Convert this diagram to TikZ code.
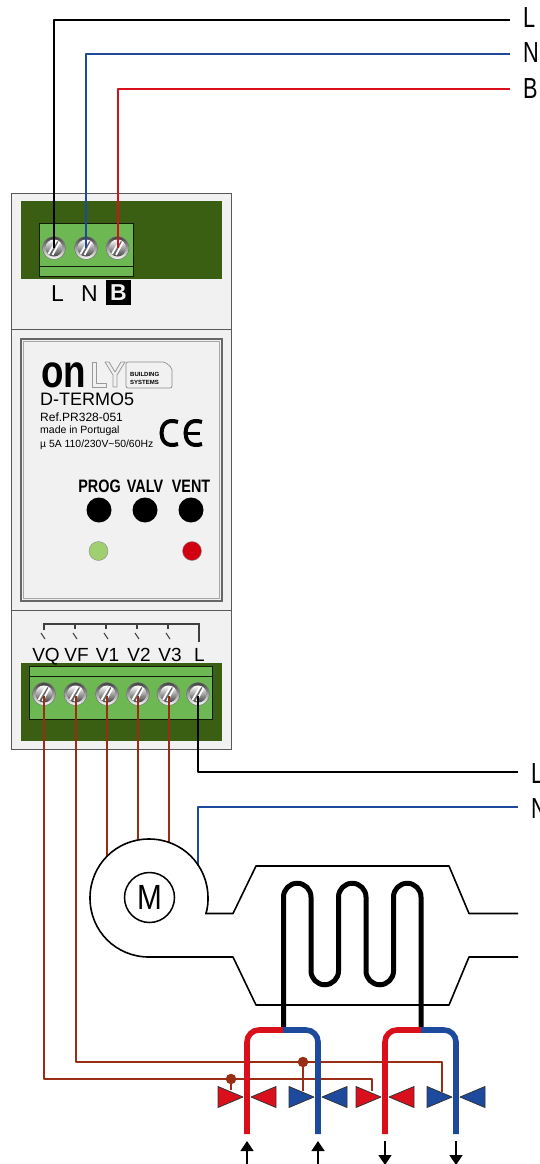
\documentclass[tikz,border=0pt]{standalone}
\usepackage{fontspec}
\setmainfont{Liberation Sans}
\usetikzlibrary{arrows.meta,calc}
\definecolor{dkgreen}{HTML}{3B5F12}
\definecolor{ltgreen}{HTML}{6DB853}
\definecolor{bodyg}{HTML}{F1F1F1}
\definecolor{wred}{HTML}{D9101C}
\definecolor{wblue}{HTML}{1E4A9E}
\definecolor{wbrown}{HTML}{9A2E14}
\tikzset{
 x=1pt,y=-1pt,
 wire/.style={line width=2pt,line join=round},
 lab/.style={font=\fontsize{23}{23}\selectfont,inner sep=0pt,anchor=base},
 endlab/.style={font=\fontsize{29}{29}\selectfont,inner sep=0pt,anchor=base west,xscale=.75},
 tlab/.style={font=\fontsize{19}{19}\selectfont,inner sep=0pt,anchor=base},
 bw/.style={wire,color=wbrown},
 pipe/.style={line width=5.6pt,rounded corners=12pt},
 shell/.style={line width=1.6pt,line join=round},
 btn/.style={circle,fill=black,minimum size=25pt,inner sep=0pt},
 btnlab/.style={font=\fontsize{18}{18}\selectfont\bfseries,inner sep=0pt,xscale=.8},
 screwn/.pic={
  \shade[top color=black!75,bottom color=white,draw=black!55,line width=.5pt,shading angle=0] (0,0) circle (11.5);
  \shade[top color=white,bottom color=black!75,shading angle=0] (0,0) circle (8.5);
  \draw[white,line width=1.8pt] (-5.5,6)--(2,-7) (-1.5,7)--(5.5,-6);
  \draw[black!60,line width=1.2pt] (-3.5,6.5)--(3.8,-6.5);
 },
 bow/.pic={
  \draw[fill=#1,draw=black!80,line width=.8pt,line join=round] (-29,-10.5)--(-4,0)--(-29,10.5)--cycle (29,-10.5)--(4,0)--(29,10.5)--cycle;
 }
}
\begin{document}
\begin{tikzpicture}
\useasboundingbox (0,0) rectangle (539,1164);
\fill[white] (0,0) rectangle (539,1164);
% housing
\draw[fill=bodyg,draw=black!65,line width=.8pt] (11.5,193) rectangle (231.5,749);
\draw[black!65,line width=.8pt] (11.5,329) -- (231.5,329) (11.5,610.5) -- (231.5,610.5);
\fill[dkgreen] (21,200.5) rectangle (222,279);
\draw[fill=ltgreen,draw=black!70!dkgreen,line width=.8pt] (39.5,223.5) rectangle (133,276);
\draw[black!70!dkgreen,line width=.8pt] (39.5,266) -- (133,266);
\path (54,248) pic{screwn} (86,248) pic{screwn} (117.5,248) pic{screwn};
\node[lab] (tL) at (57.5,301) {L};
\node[lab] (tN) at (89.5,301) {N};
\node[fill=black,text=bodyg,font=\fontsize{23}{23}\selectfont,minimum width=25pt,minimum height=25pt,inner sep=0pt] (tB) at (118.5,292.5) {\textbf{B}};
% panel
\draw[black!60,line width=1.1pt] (21,339) rectangle (222,601);
\draw[black!35,line width=.7pt] (23.5,341.5) rectangle (219.5,598.5);
% logo
\node[font=\fontsize{46}{46}\selectfont\bfseries,inner sep=0pt,anchor=base west,xscale=.8,text height=24pt,text depth=0pt] (logoon) at (41,387) {on};
\draw[black!40,line width=.8pt,line join=round] (92,362)--(96,362)--(96,383)--(106,383)--(106,387)--(92,387)--cycle;
\draw[black!40,line width=.8pt,line join=round] (105,362)--(109,362)--(115,372)--(121,362)--(125,362)--(117,375)--(117,387)--(113,387)--(113,375)--cycle;
\draw[black!45,line width=.7pt,rounded corners=2pt] (126,362) -- (165,362) -- (172,368) -- (172,388) -- (126,388) -- cycle;
\node[font=\fontsize{6}{8}\selectfont\bfseries,align=left,inner sep=0pt,anchor=west] (logob) at (130,378.5) {BUILDING\\SYSTEMS};
\node[font=\fontsize{18}{18}\selectfont,inner sep=0pt,anchor=west] (dt) at (40,399.5) {D-TERMO5};
\node[font=\fontsize{12}{12}\selectfont,inner sep=0pt,anchor=west] (rf) at (40,417) {Ref.PR328-051};
\node[font=\fontsize{10.5}{10.5}\selectfont,inner sep=0pt,anchor=west] (mp) at (40,431) {made in Portugal};
\node[font=\fontsize{10.4}{10.4}\selectfont,inner sep=0pt,anchor=west] (uf) at (40,445) {µ 5A 110/230V\textasciitilde 50/60Hz};
\draw[line width=4pt] (178,422) .. controls (166,418) and (161.5,426) .. (161.5,433) .. controls (161.5,440) and (166,448) .. (178,444);
\draw[line width=4pt] (202,422) .. controls (190,418) and (185.5,426) .. (185.5,433) .. controls (185.5,440) and (190,448) .. (202,444);
\draw[line width=3pt] (186,433) -- (200,433);
% buttons
\node[btnlab] (pp) at (99.5,486) {PROG};
\node[btnlab] (pv) at (145,486) {VALV};
\node[btnlab] (pt) at (191,486) {VENT};
\node[btn] (b1) at (99,510) {};
\node[btn] (b2) at (145,510) {};
\node[btn] (b3) at (191,510) {};
\node[circle,fill={rgb,255:red,160;green,207;blue,112},draw=black!45,minimum size=19pt,inner sep=0pt] (l1) at (98.5,551) {};
\node[circle,fill={rgb,255:red,208;green,0;blue,15},draw=black!45,minimum size=19pt,inner sep=0pt] (l2) at (192,551) {};
% relay
\draw[black!75,line width=1.2pt] (44,630)--(44,624)--(199,624)--(199,642);
\foreach \xx in {75,106,137,168} \draw[black!75,line width=1.2pt] (\xx,624)--(\xx,628.5);
\foreach \xx in {41,73,104,135,166} \draw[black!75,line width=1pt] (\xx,633)--(\xx+4,639);
\fill[dkgreen] (21,663) rectangle (222,741);
\node[tlab] (vq) at (46,661) {VQ};
\node[tlab] (vf) at (76.5,661) {VF};
\node[tlab] (v1) at (107.5,661) {V1};
\node[tlab] (v2) at (139,661) {V2};
\node[tlab] (v3) at (170,661) {V3};
\node[tlab] (vl) at (199.5,661) {L};
\draw[fill=ltgreen,draw=black!70!dkgreen,line width=.8pt] (29.5,666) rectangle (212,719);
\draw[black!70!dkgreen,line width=.8pt] (29.5,676.5) -- (212,676.5);
\path (44,694) pic{screwn} (75.5,694) pic{screwn} (107,694) pic{screwn} (138,694) pic{screwn} (168.5,694) pic{screwn} (198,694) pic{screwn};
% top wires
\coordinate (sL) at (54,248); \coordinate (sN) at (86,248); \coordinate (sB) at (117.5,248);
\coordinate (eL) at (510,20); \coordinate (eN) at (510,54.5); \coordinate (eB) at (510,88.5);
\draw[wire,black,line width=2.5pt] (sL) |- (eL);
\draw[wire,wblue] (sN) |- (eN);
\draw[wire,wred] (sB) |- (eB);
\node[endlab] (nL) at (523,28) {L};
\node[endlab] (nN) at (523,63) {N};
\node[endlab] (nB) at (523,98) {B};
% bottom wires
\coordinate (s6) at (198,696);
\coordinate (eL2) at (518,772);
\coordinate (eN2) at (518,806.5);
\draw[wire,black,line width=2.5pt] (s6) |- (eL2);
\draw[wire,wblue] (198,866) |- (eN2);
\node[endlab] (nL2) at (531,783) {L};
\node[endlab] (nN2) at (531,818) {N};
\draw[bw] (107,696)--(107,857);
\draw[bw] (138,696)--(138,840);
\draw[bw] (168.5,696)--(168.5,842);
\draw[bw] (44,696)--(44,1079)--(372,1079)--(372,1091);
\draw[bw] (75.5,696)--(75.5,1062)--(442,1062)--(442,1092);
% motor
\draw[shell] (206,913.5) .. controls (208,906) and (208,902) .. (208,898) .. controls (208,865) and (182,839) .. (149,839) .. controls (116,839) and (90,865) .. (90,898) .. controls (90,931) and (116,957) .. (149,957) -- (233,957) -- (256,1005) -- (449,1005) -- (469,957) -- (518,957);
\draw[shell] (205,913.5) -- (233,913.5) -- (256,866) -- (449,866) -- (469,913.5) -- (518,913.5);
\node[circle,draw,line width=1.5pt,minimum size=50pt,inner sep=0pt] (mot) at (149.5,897.5) {};
\node[font=\fontsize{35}{35}\selectfont,inner sep=0pt,xscale=.85] (motl) at (mot.center) {M};
% coil
\draw[line width=5pt,line join=round] (283.5,1028) -- (283.5,897) arc (180:360:13.75) -- (311,971) arc (180:0:13.75) -- (338.5,897) arc (180:360:13.75) -- (366,971) arc (180:0:13.75) -- (393.5,897) arc (180:360:13.75) -- (421,1028);
% valves
\path (247,1097) pic{bow=wred} (318,1097) pic{bow=wblue} (385,1097) pic{bow=wred} (456,1097) pic{bow=wblue};
% pipes
\draw[pipe,wred] (247,1134) -- (247,1030) -- (284,1030);
\draw[pipe,wblue] (283,1030) -- (318,1030) -- (318,1134);
\draw[pipe,wred] (385,1134) -- (385,1030) -- (422,1030);
\draw[pipe,wblue] (421,1030) -- (456,1030) -- (456,1134);
% dots
\node[circle,fill=wbrown,minimum size=10.5pt,inner sep=0pt] (d1) at (231,1079) {};
\node[circle,fill=wbrown,minimum size=10.5pt,inner sep=0pt] (d2) at (303,1062) {};
\draw[bw] (d1) -- (231,1090);
\draw[bw] (d2) -- (303,1091);
% arrows
\tikzset{flow/.style={line width=1.4pt,-{Triangle[length=10pt,width=13pt]}}}
\draw[flow] (247,1164) -- (247,1141);
\draw[flow] (318,1164) -- (318,1141);
\draw[flow] (385,1141) -- (385,1165);
\draw[flow] (456,1141) -- (456,1165);
\end{tikzpicture}
\end{document}
